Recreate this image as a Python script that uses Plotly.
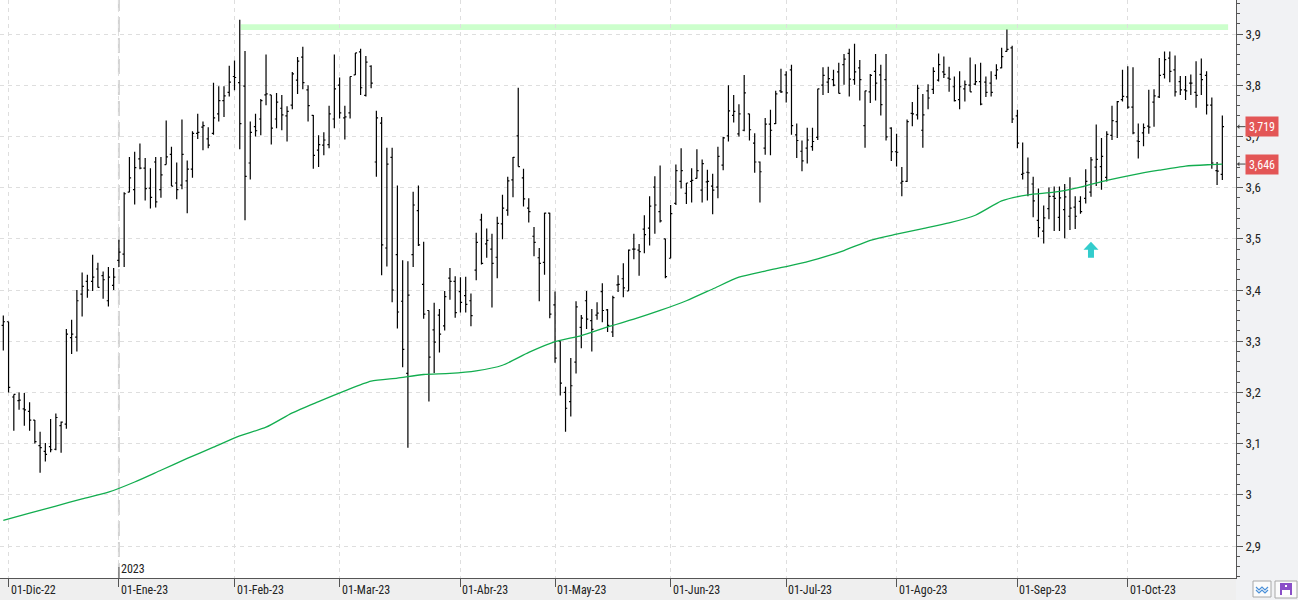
import pandas as pd
import plotly.graph_objects as go

# ---------------- data ----------------
HOLIDAYS = ["2022-12-26", "2023-04-07", "2023-04-10", "2023-05-01"]
_days = pd.bdate_range("2022-11-30", "2023-10-26")
DATES = [d.strftime("%Y-%m-%d") for d in _days if d.strftime("%Y-%m-%d") not in HOLIDAYS]

OPEN = [3.331,3.338,3.191,3.184,3.168,3.163,3.146,3.096,3.085,3.094,3.089,3.135,3.138,3.307,3.308,3.392,3.417,3.417,3.441,3.428,
        3.379,3.409,3.458,3.470,3.591,3.596,3.656,3.638,3.599,3.650,3.596,3.645,3.665,3.609,3.605,3.613,3.636,3.706,3.718,3.695,
        3.706,3.744,3.770,3.786,3.817,3.805,3.798,3.648,3.719,3.734,3.781,3.781,3.734,3.755,3.740,3.761,3.810,3.855,3.791,3.741,
        3.673,3.683,3.684,3.734,3.800,3.736,3.746,3.820,3.865,3.780,3.837,3.650,3.726,3.482,3.659,3.469,3.378,3.237,3.469,3.555,
        3.411,3.360,3.322,3.351,3.330,3.423,3.417,3.397,3.389,3.379,3.439,3.537,3.490,3.480,3.464,3.529,3.556,3.615,3.701,3.619,
        3.560,3.505,3.463,3.454,3.550,3.371,3.300,3.200,3.182,3.259,3.327,3.379,3.340,3.351,3.397,3.361,3.318,3.410,3.422,3.398,
        3.480,3.478,3.519,3.521,3.601,3.553,3.500,3.462,3.569,3.612,3.589,3.612,3.618,3.595,3.611,3.603,3.601,3.644,3.701,3.741,
        3.705,3.712,3.744,3.687,3.650,3.677,3.724,3.725,3.789,3.820,3.830,3.703,3.671,3.677,3.680,3.698,3.800,3.806,3.811,3.826,
        3.840,3.862,3.811,3.834,3.721,3.787,3.827,3.820,3.811,3.716,3.670,3.609,3.612,3.745,3.742,3.712,3.789,3.792,3.810,3.826,
        3.814,3.797,3.772,3.793,3.800,3.802,3.807,3.806,3.804,3.819,3.834,3.866,3.873,3.740,3.626,3.630,3.607,3.536,3.515,3.559,
        3.583,3.542,3.557,3.544,3.562,3.573,3.579,3.591,3.640,3.641,3.620,3.702,3.729,3.772,3.777,3.757,3.691,3.707,3.720,3.767,
        3.777,3.821,3.853,3.830,3.807,3.791,3.804,3.786,3.821,3.819,3.761,3.633,3.626]
HIGH = [3.350,3.338,3.196,3.200,3.199,3.181,3.146,3.123,3.101,3.148,3.159,3.143,3.324,3.342,3.400,3.434,3.430,3.469,3.453,3.436,
        3.445,3.443,3.498,3.591,3.660,3.670,3.686,3.658,3.638,3.660,3.660,3.731,3.680,3.649,3.733,3.653,3.710,3.744,3.729,3.718,
        3.805,3.798,3.798,3.838,3.848,3.928,3.867,3.729,3.744,3.773,3.860,3.781,3.785,3.781,3.759,3.826,3.855,3.875,3.800,3.742,
        3.702,3.708,3.760,3.860,3.815,3.760,3.817,3.863,3.871,3.857,3.839,3.750,3.738,3.678,3.678,3.604,3.458,3.456,3.592,3.604,
        3.494,3.360,3.375,3.363,3.398,3.443,3.427,3.425,3.426,3.393,3.512,3.549,3.520,3.510,3.543,3.586,3.621,3.660,3.795,3.637,
        3.579,3.523,3.482,3.551,3.551,3.397,3.300,3.211,3.267,3.378,3.351,3.398,3.363,3.376,3.413,3.363,3.389,3.429,3.452,3.479,
        3.510,3.490,3.546,3.583,3.622,3.643,3.500,3.566,3.645,3.677,3.609,3.638,3.675,3.655,3.635,3.627,3.680,3.699,3.800,3.781,
        3.763,3.820,3.744,3.706,3.651,3.736,3.752,3.789,3.832,3.827,3.840,3.725,3.692,3.717,3.717,3.793,3.835,3.836,3.830,3.844,
        3.861,3.871,3.881,3.849,3.789,3.822,3.861,3.840,3.861,3.718,3.705,3.640,3.733,3.767,3.801,3.783,3.802,3.835,3.862,3.856,
        3.836,3.817,3.827,3.809,3.854,3.841,3.844,3.817,3.827,3.841,3.873,3.909,3.877,3.752,3.688,3.659,3.621,3.598,3.565,3.600,
        3.602,3.602,3.607,3.620,3.583,3.583,3.636,3.660,3.723,3.697,3.710,3.760,3.769,3.830,3.837,3.835,3.725,3.725,3.791,3.792,
        3.853,3.866,3.866,3.858,3.818,3.818,3.821,3.847,3.852,3.827,3.776,3.650,3.741]
LOW = [3.282,3.200,3.125,3.166,3.135,3.125,3.100,3.043,3.065,3.083,3.087,3.082,3.129,3.275,3.280,3.348,3.385,3.398,3.405,3.383,
       3.368,3.400,3.445,3.445,3.591,3.567,3.636,3.575,3.559,3.561,3.580,3.645,3.603,3.577,3.597,3.550,3.619,3.695,3.673,3.677,
       3.703,3.729,3.738,3.778,3.790,3.675,3.536,3.616,3.700,3.702,3.761,3.684,3.716,3.712,3.690,3.753,3.783,3.792,3.729,3.637,
       3.640,3.663,3.677,3.716,3.735,3.694,3.735,3.820,3.781,3.778,3.794,3.621,3.429,3.446,3.376,3.325,3.249,3.092,3.445,3.486,
       3.344,3.182,3.238,3.278,3.321,3.381,3.346,3.356,3.356,3.329,3.419,3.450,3.463,3.366,3.423,3.499,3.545,3.581,3.641,3.563,
       3.532,3.466,3.378,3.430,3.345,3.258,3.194,3.123,3.153,3.237,3.286,3.324,3.280,3.342,3.337,3.318,3.308,3.396,3.386,3.398,
       3.460,3.428,3.472,3.487,3.510,3.532,3.423,3.462,3.566,3.598,3.568,3.571,3.618,3.571,3.575,3.548,3.579,3.634,3.690,3.727,
       3.700,3.710,3.692,3.629,3.571,3.664,3.663,3.724,3.785,3.766,3.703,3.658,3.632,3.647,3.672,3.693,3.781,3.785,3.798,3.784,
       3.801,3.778,3.801,3.770,3.678,3.765,3.770,3.741,3.692,3.652,3.641,3.583,3.611,3.720,3.733,3.678,3.753,3.783,3.807,3.814,
       3.787,3.768,3.753,3.768,3.787,3.800,3.761,3.777,3.778,3.811,3.833,3.866,3.726,3.677,3.616,3.583,3.542,3.503,3.491,3.538,
       3.515,3.515,3.501,3.517,3.519,3.549,3.569,3.582,3.603,3.596,3.612,3.693,3.697,3.768,3.754,3.704,3.657,3.681,3.705,3.719,
       3.775,3.813,3.806,3.778,3.781,3.771,3.781,3.756,3.781,3.743,3.637,3.605,3.615]
CLOSE = [3.338,3.210,3.196,3.185,3.166,3.146,3.104,3.092,3.079,3.088,3.151,3.142,3.314,3.314,3.379,3.407,3.400,3.425,3.405,3.420,
         3.425,3.425,3.474,3.588,3.619,3.639,3.638,3.598,3.581,3.572,3.625,3.660,3.603,3.596,3.665,3.636,3.706,3.708,3.721,3.683,
         3.736,3.770,3.779,3.806,3.815,3.725,3.622,3.708,3.711,3.770,3.783,3.716,3.767,3.742,3.749,3.822,3.847,3.805,3.760,3.663,
         3.684,3.693,3.744,3.793,3.746,3.738,3.817,3.863,3.795,3.845,3.804,3.736,3.488,3.646,3.400,3.357,3.284,3.390,3.566,3.488,
         3.353,3.269,3.298,3.314,3.387,3.417,3.356,3.376,3.372,3.350,3.493,3.452,3.497,3.452,3.530,3.560,3.613,3.659,3.641,3.578,
         3.553,3.493,3.452,3.550,3.353,3.267,3.218,3.169,3.213,3.367,3.345,3.343,3.323,3.355,3.360,3.331,3.385,3.411,3.404,3.478,
         3.480,3.475,3.508,3.564,3.566,3.535,3.426,3.549,3.633,3.633,3.609,3.614,3.633,3.647,3.612,3.595,3.661,3.697,3.750,3.749,
         3.744,3.785,3.713,3.650,3.631,3.724,3.712,3.783,3.787,3.785,3.721,3.692,3.652,3.693,3.690,3.793,3.819,3.813,3.800,3.784,
         3.851,3.812,3.826,3.811,3.789,3.819,3.804,3.762,3.699,3.670,3.669,3.612,3.729,3.744,3.794,3.742,3.775,3.827,3.840,3.821,
         3.812,3.770,3.797,3.801,3.787,3.807,3.763,3.786,3.786,3.830,3.856,3.870,3.734,3.687,3.628,3.629,3.574,3.522,3.541,3.583,
         3.579,3.580,3.582,3.560,3.544,3.553,3.612,3.654,3.655,3.661,3.704,3.731,3.768,3.778,3.757,3.707,3.690,3.717,3.718,3.779,
         3.819,3.850,3.827,3.787,3.791,3.789,3.804,3.780,3.811,3.761,3.648,3.632,3.719]

# moving average, one sample every 5 sessions plus the last one
MA_VALUES = [2.950, 2.964, 2.978, 2.992, 3.005, 3.025, 3.048, 3.071, 3.093, 3.115, 3.132, 3.160,
             3.182, 3.203, 3.222, 3.228, 3.235, 3.237, 3.242, 3.253, 3.278, 3.299, 3.311, 3.328,
             3.343, 3.360, 3.379, 3.402, 3.425, 3.437, 3.448, 3.461, 3.477, 3.497, 3.509, 3.520,
             3.531, 3.546, 3.574, 3.586, 3.591, 3.601, 3.614, 3.625, 3.634, 3.642, 3.645, 3.646]
MA_DATES = DATES[::5] + [DATES[-1]]

MONTH_LABELS = ["01-Dic-22", "01-Ene-23", "01-Feb-23", "01-Mar-23", "01-Abr-23", "01-May-23",
                "01-Jun-23", "01-Jul-23", "01-Ago-23", "01-Sep-23", "01-Oct-23"]
YEAR_LABEL = "2023"
LAST_CLOSE = 3.719
LAST_MA = 3.646
RESIST_LOW, RESIST_HIGH = 3.908, 3.919
RESIST_START = "2023-02-02"
SIGNAL_DATE = "2023-09-21"
SIGNAL_LEVEL = 3.494

# first session of each month (from December on)
MONTH_TICKS = []
_seen = set()
for d in DATES:
    ym = d[:7]
    if ym not in _seen:
        _seen.add(ym)
        if ym >= "2022-12":
            MONTH_TICKS.append(d)
YEAR_START = next(d for d in DATES if d.startswith("2023"))

FONT = "Liberation Sans Narrow, Roboto Condensed, Liberation Sans, Arial"
GRID = "#dedede"
AX = "#555555"

fig = go.Figure()
fig.add_trace(go.Ohlc(
    x=DATES, open=OPEN, high=HIGH, low=LOW, close=CLOSE,
    increasing=dict(line=dict(color="black", width=1.2)),
    decreasing=dict(line=dict(color="black", width=1.2)),
    tickwidth=0.32, showlegend=False, hoverinfo="skip",
))
fig.add_trace(go.Scatter(
    x=MA_DATES, y=MA_VALUES, mode="lines", line_shape="spline",
    line=dict(color="#12ad4f", width=1.3, smoothing=0.6), showlegend=False, hoverinfo="skip",
))

shapes = []
# resistance band
shapes.append(dict(type="rect", xref="x", yref="y", x0=DATES.index(RESIST_START) + 0.2, x1=len(DATES) + 0.1,
                   y0=RESIST_LOW, y1=RESIST_HIGH, fillcolor="#ccffcc", line=dict(width=0), layer="below"))
# year separator
shapes.append(dict(type="line", xref="x", yref="paper", x0=YEAR_START, x1=YEAR_START, y0=0, y1=1,
                   line=dict(color="#d2d2d2", width=2, dash="15px,6px"), layer="below"))
shapes.append(dict(type="line", xref="x", yref="paper", ysizemode="pixel", yanchor=0,
                   x0=YEAR_START, x1=YEAR_START, y0=0, y1=11, line=dict(color=AX, width=1)))
# signal arrow
shapes.append(dict(type="path", xref="x", yref="y", xsizemode="pixel", ysizemode="pixel",
                   xanchor=SIGNAL_DATE, yanchor=SIGNAL_LEVEL,
                   path="M 0,0 L 7.5,-8 L 3,-8 L 3,-16 L -3,-16 L -3,-8 L -7.5,-8 Z",
                   fillcolor="#33cccc", line=dict(width=0)))
# icons bottom right
shapes.append(dict(type="rect", xref="paper", yref="paper", xsizemode="pixel", ysizemode="pixel",
                   xanchor=1, yanchor=0, x0=17, x1=35, y0=-3, y1=-19,
                   line=dict(color="#a8a8a8", width=1), fillcolor="#fbfbfb"))
shapes.append(dict(type="path", xref="paper", yref="paper", xsizemode="pixel", ysizemode="pixel",
                   xanchor=1, yanchor=0,
                   path="M 20,-9 L 23,-12 L 26,-9 L 29,-12 L 32,-9 M 20,-12 L 23,-15 L 26,-12 L 29,-15 L 32,-12",
                   line=dict(color="#4a90d9", width=1.2)))
shapes.append(dict(type="rect", xref="paper", yref="paper", xsizemode="pixel", ysizemode="pixel",
                   xanchor=1, yanchor=0, x0=39, x1=61, y0=-3, y1=-20,
                   line=dict(color="#a8a8a8", width=1), fillcolor="#fbfbfb"))
shapes.append(dict(type="rect", xref="paper", yref="paper", xsizemode="pixel", ysizemode="pixel",
                   xanchor=1, yanchor=0, x0=44, x1=56, y0=-5, y1=-17,
                   line=dict(width=0), fillcolor="#8a4fc8"))
shapes.append(dict(type="rect", xref="paper", yref="paper", xsizemode="pixel", ysizemode="pixel",
                   xanchor=1, yanchor=0, x0=46, x1=54, y0=-12, y1=-17,
                   line=dict(width=0), fillcolor="#ffffff"))
shapes.append(dict(type="rect", xref="paper", yref="paper", xsizemode="pixel", ysizemode="pixel",
                   xanchor=1, yanchor=0, x0=49, x1=51, y0=-7, y1=-9,
                   line=dict(width=0), fillcolor="#ffffff"))

annotations = []
for d, lab in zip(MONTH_TICKS, MONTH_LABELS):
    annotations.append(dict(x=d, y=0, xref="x", yref="paper", text=lab, showarrow=False,
                            xanchor="left", yanchor="top", xshift=0, yshift=-3,
                            font=dict(family=FONT, size=12, color="#222")))
annotations.append(dict(x=YEAR_START, y=0, xref="x", yref="paper", text=YEAR_LABEL, showarrow=False,
                        xanchor="left", yanchor="bottom", xshift=0, yshift=0,
                        font=dict(family=FONT, size=12, color="#222")))
for val in (LAST_CLOSE, LAST_MA):
    annotations.append(dict(x=1, y=val, xref="paper", yref="y", text=f"{val:.3f}".replace(".", ","),
                            showarrow=True, ax=26, ay=0, arrowhead=1, arrowsize=0.8, arrowwidth=1,
                            arrowcolor="#444", standoff=1,
                            bgcolor="#e35656", font=dict(family=FONT, size=12, color="white"),
                            width=30, height=17, borderpad=1))

N = len(DATES)
fig.update_layout(
    width=1298, height=600,
    margin=dict(l=0, r=62, t=0, b=22, pad=0),
    paper_bgcolor="#f1f2f4", plot_bgcolor="white",
    separators=",.",
    font=dict(family=FONT, size=12, color="#222"),
    shapes=shapes, annotations=annotations,
    xaxis=dict(type="category", range=[-0.63, N + 1.6], tickvals=MONTH_TICKS, showticklabels=False,
               ticks="outside", ticklen=8, tickcolor=AX, showgrid=True, gridcolor=GRID, griddash="4px,4px",
               showline=True, linecolor=AX, linewidth=1, zeroline=False,
               rangeslider=dict(visible=False), fixedrange=True, automargin=False),
    yaxis=dict(side="right", range=[2.8375, 3.9664], dtick=0.1, tick0=2.9,
               ticks="outside", ticklen=6, tickcolor=AX, showgrid=True, gridcolor=GRID, griddash="4px,4px",
               showline=True, linecolor=AX, linewidth=1, zeroline=False, automargin=False,
               tickfont=dict(family=FONT, size=13, color="#222"),
               minor=dict(dtick=0.02, ticks="outside", ticklen=3, tickcolor=AX, showgrid=False),
               fixedrange=True),
)
fig.add_shape(type="rect", xref="paper", yref="paper", x0=0, x1=1, y0=0, y1=-22 / 578,
              fillcolor="#efefef", line=dict(width=0), layer="below")
fig.write_html("out.html", config={"displayModeBar": False})
